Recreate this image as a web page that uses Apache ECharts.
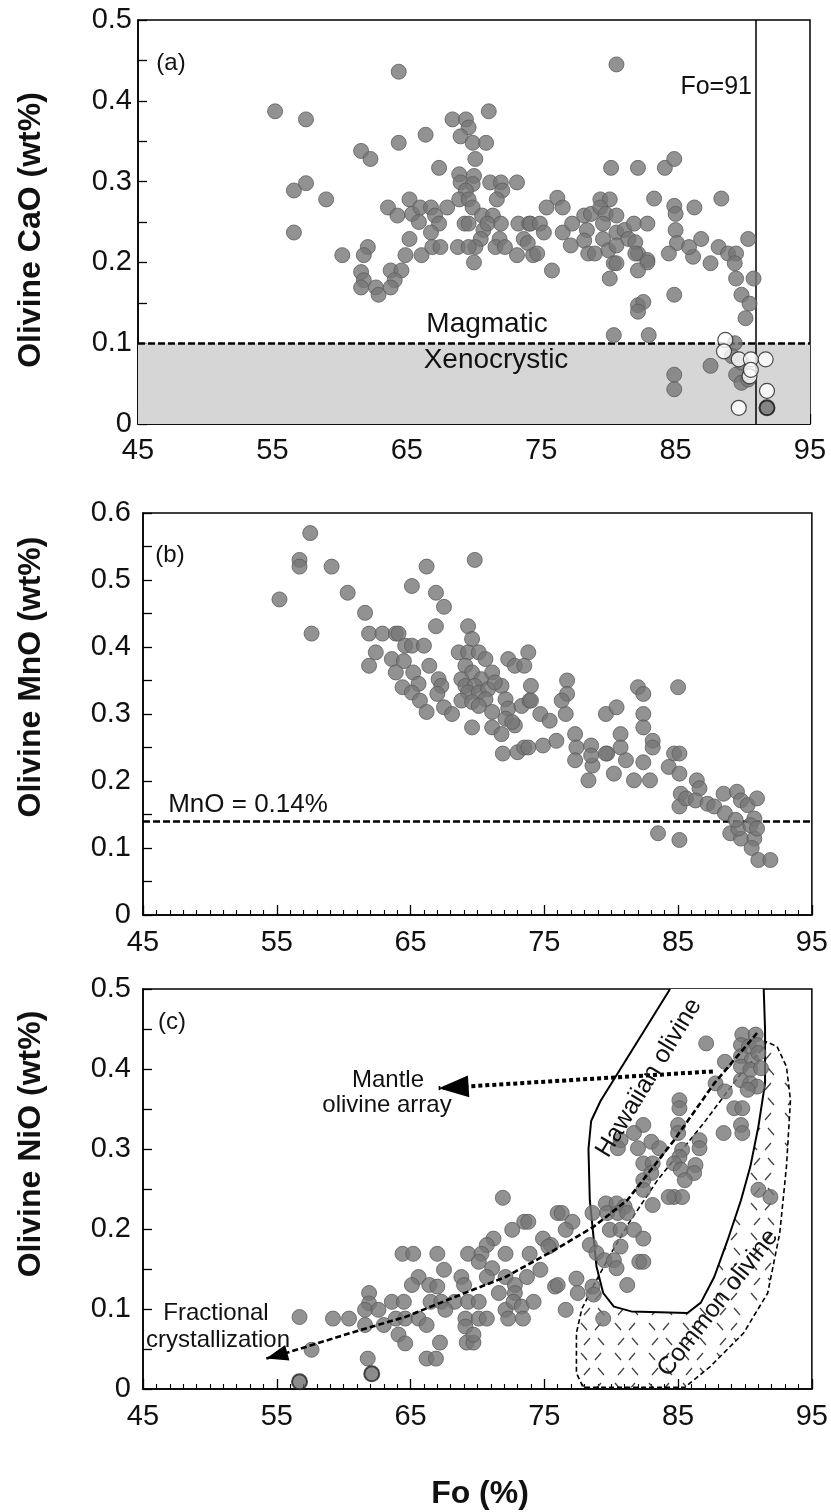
<!DOCTYPE html>
<html><head><meta charset="utf-8">
<script src="https://cdn.jsdelivr.net/npm/echarts@6/dist/echarts.min.js"></script>
<style>html,body{margin:0;padding:0;background:#fff}#c{width:831px;height:1512px}</style>
</head><body><div id="c"></div>
<script>
// ---------- DATA ----------
const xTicks = [45, 55, 65, 75, 85, 95];
const magmaticLimit = 0.1;   // CaO wt%
const foLimit = 91;          // Fo
const mnoLimit = 0.14;       // MnO wt%

// Panel (a) CaO vs Fo
const caoGray = [
[55.2,0.387],[56.6,0.289],[56.6,0.237],[57.5,0.298],[57.5,0.377],[59.0,0.278],[60.2,0.209],
[61.6,0.338],[62.3,0.328],[61.6,0.188],[61.8,0.178],[61.6,0.169],[62.1,0.219],[61.8,0.209],[62.7,0.169],[62.9,0.16],[63.8,0.19],[64.6,0.19],[64.1,0.178],[63.8,0.169],[63.6,0.268],[64.3,0.258],[64.4,0.348],[64.4,0.436],
[65.2,0.278],[65.4,0.26],[66.0,0.268],[66.8,0.268],[67.1,0.258],[65.9,0.25],[67.4,0.248],[66.8,0.237],[68.0,0.268],[65.2,0.229],[64.9,0.209],[66.1,0.209],[66.9,0.219],[67.5,0.219],[66.4,0.358],[67.4,0.317],
[68.4,0.377],[69.4,0.377],[69.6,0.367],[69.0,0.356],[69.9,0.348],[70.9,0.348],[71.1,0.387],[70.1,0.328],
[68.9,0.309],[70.0,0.307],[69.0,0.299],[69.9,0.297],[69.4,0.289],[68.9,0.278],[69.6,0.278],[69.9,0.268],[70.6,0.258],[70.7,0.24],[70.5,0.229],[70.1,0.219],[70.0,0.2],[69.3,0.248],[69.6,0.248],[68.8,0.219],[69.6,0.219],
[71.2,0.299],[72.0,0.299],[72.1,0.289],[73.2,0.299],[71.7,0.278],[71.4,0.258],[72.0,0.248],[71.9,0.229],[73.3,0.248],[74.1,0.248],[73.7,0.229],[71.6,0.219],[72.3,0.219],[73.2,0.209],[74.4,0.209],[71.0,0.248],
[76.2,0.28],[76.6,0.268],[75.4,0.268],[74.2,0.248],[74.9,0.248],[75.2,0.237],[74.0,0.224],[74.7,0.211],[75.8,0.19],[76.6,0.237],[77.3,0.248],[77.2,0.221],
[78.2,0.258],[78.7,0.26],[79.4,0.278],[80.1,0.278],[79.4,0.268],[79.8,0.26],[80.6,0.258],
[78.4,0.24],[78.2,0.227],[78.5,0.211],[79.0,0.211],[79.6,0.248],[79.6,0.229],[80.0,0.215],[80.6,0.237],[80.6,0.221],[80.4,0.199],[81.2,0.24],[81.5,0.229],[81.9,0.248],[82.2,0.211],[82.9,0.203],[82.0,0.225],
[80.6,0.445],[80.2,0.317],[82.2,0.317],[84.2,0.317],[84.9,0.328],[88.4,0.279],[83.4,0.279],[86.4,0.268],[84.9,0.27],[85.0,0.26],[82.9,0.248],[85.0,0.24],[85.1,0.224],[86.9,0.229],[88.2,0.219],[90.4,0.229],
[88.9,0.211],[89.5,0.211],[89.4,0.199],[89.5,0.18],[90.8,0.18],[89.9,0.16],[90.5,0.149],[90.2,0.131],[87.6,0.199],[86.3,0.207],[86.0,0.219],[84.5,0.211],[84.9,0.16],[82.2,0.147],[82.6,0.151],[82.2,0.139],[82.9,0.2],[82.2,0.19],[82.0,0.211],[80.6,0.199],[80.1,0.18],[80.4,0.11],[83.0,0.11],
[84.9,0.061],[84.9,0.043],[87.6,0.072],[89.4,0.1],[89.2,0.084],[89.5,0.061],[89.9,0.051],[90.4,0.055],[89.9,0.076]
];
const caoWhite = [[88.7,0.104],[88.6,0.09],[89.7,0.08],[90.6,0.08],[91.7,0.08],[90.5,0.059],[90.6,0.067],[91.8,0.041],[89.7,0.02]];
const caoDark = [[91.8,0.02]];

// Panel (b) MnO vs Fo
const mnoGray = [
[57.5,0.57],[56.7,0.53],[56.7,0.52],[59.1,0.52],[55.2,0.471],[60.3,0.481],[61.6,0.451],[57.6,0.42],
[61.9,0.42],[62.9,0.42],[63.9,0.42],[64.1,0.42],[64.6,0.402],[65.1,0.402],[66.0,0.402],[62.4,0.392],[61.9,0.372],[63.6,0.382],[64.5,0.379],
[63.9,0.362],[64.4,0.34],[65.2,0.362],[65.6,0.345],[65.1,0.332],[65.7,0.32],[66.2,0.303],[66.4,0.372],[67.1,0.352],[67.3,0.342],[67.0,0.33],[67.5,0.31],[68.1,0.3],
[65.1,0.491],[66.2,0.52],[66.9,0.481],[67.5,0.46],[66.9,0.431],[69.8,0.53],[69.3,0.431],[69.6,0.412],
[68.6,0.392],[69.3,0.392],[70.1,0.392],[70.6,0.382],[69.1,0.372],[69.6,0.362],[70.3,0.352],[71.1,0.362],[68.8,0.352],[69.1,0.342],[69.8,0.342],[69.3,0.332],[70.1,0.332],[70.8,0.337],[70.6,0.322],[68.8,0.32],[69.6,0.318],[70.1,0.312],[71.1,0.303],[71.8,0.342],[71.3,0.347],[72.3,0.382],[72.8,0.372],[72.1,0.322],[72.3,0.308],[72.1,0.293],[72.8,0.283],[73.8,0.392],[73.5,0.372],[74.0,0.342],[73.3,0.312],[73.9,0.32],[69.6,0.28],[71.1,0.28],[71.8,0.27],[72.6,0.288],[71.9,0.241],[73.0,0.243],[73.5,0.25],
[74.0,0.32],[74.7,0.3],[75.4,0.29],[74.9,0.253],[75.9,0.26],[73.8,0.25],[76.7,0.35],[76.7,0.33],[76.3,0.32],[76.6,0.3],
[77.3,0.27],[77.4,0.25],[77.3,0.231],[78.3,0.201],[78.5,0.253],[78.6,0.223],[79.6,0.3],[80.4,0.31],[79.7,0.241],[80.2,0.211],[80.7,0.27],[80.7,0.25],[81.1,0.231],[81.7,0.201],[82.4,0.228],[82.9,0.201],[82.0,0.34],[82.4,0.33],[82.4,0.3],[82.4,0.28],[83.1,0.26],[83.1,0.25],[79.6,0.241],[78.5,0.238],
[83.5,0.122],[85.0,0.34],[85.1,0.112],
[84.7,0.241],[85.1,0.241],[84.3,0.221],[85.1,0.211],[85.2,0.181],[85.1,0.162],[85.6,0.174],[86.4,0.201],[86.6,0.189],[86.3,0.171],[87.2,0.166],[87.7,0.162],[88.4,0.181],[88.5,0.152],[89.4,0.184],[89.7,0.171],[88.9,0.122],[89.7,0.114],[90.2,0.164],[90.7,0.144],[90.9,0.174],[90.7,0.114],[90.5,0.1],[91.0,0.082],[91.9,0.082],[89.5,0.129],[90.4,0.134],[90.9,0.129],[89.3,0.142]
];

// Panel (c) NiO vs Fo
const nioGray = [
[71.9,0.239],[73.5,0.209],[72.6,0.199],[71.2,0.188],[70.7,0.18],[74.9,0.188],[75.5,0.18],[76.0,0.22],
[64.4,0.169],[65.2,0.169],[67.0,0.169],[69.3,0.169],[70.3,0.169],[72.1,0.169],[73.9,0.169],
[67.5,0.149],[70.1,0.159],[71.1,0.151],[74.7,0.149],
[65.6,0.14],[65.1,0.13],[66.4,0.13],[67.0,0.128],[68.8,0.14],[69.0,0.13],[70.7,0.14],[72.1,0.14],[72.8,0.13],[73.7,0.14],[75.8,0.128],[71.6,0.12],[72.8,0.12],
[61.9,0.12],[61.9,0.107],[61.6,0.099],[62.6,0.099],[63.6,0.109],[64.5,0.109],[66.5,0.109],[67.3,0.109],[68.3,0.109],[69.3,0.109],[70.1,0.109],[72.1,0.099],[72.7,0.109],[73.3,0.103],[74.2,0.109],
[56.7,0.09],[59.2,0.088],[60.4,0.088],[61.6,0.08],[63.0,0.08],[63.9,0.088],[64.6,0.088],[65.6,0.088],[66.2,0.08],[67.6,0.099],[69.1,0.088],[70.1,0.088],[70.7,0.088],[72.3,0.088],[73.4,0.088],[69.1,0.078],
[64.1,0.068],[64.6,0.057],[67.2,0.058],[69.2,0.058],[69.7,0.058],[69.7,0.068],[57.6,0.049],[61.8,0.038],[66.2,0.038],[66.9,0.038],
[87.1,0.432],[89.8,0.443],[90.8,0.443],[89.7,0.43],[90.3,0.428],[90.9,0.43],[88.5,0.409],[89.7,0.416],[90.5,0.411],[91.0,0.42],[89.7,0.403],[90.4,0.399],[91.2,0.401],[89.7,0.386],[90.4,0.382],[90.9,0.378],[90.2,0.374],[87.8,0.382],[88.5,0.372],[89.2,0.351],[89.8,0.351],[89.7,0.33],[89.8,0.32],[88.4,0.32],
[85.1,0.361],[85.1,0.351],[85.0,0.33],[85.0,0.32],[86.6,0.311],[86.6,0.301],[85.3,0.299],[85.1,0.29],[84.7,0.282],[85.2,0.274],[86.3,0.28],[86.2,0.27],[85.5,0.261],[84.7,0.24],[85.3,0.24],[84.3,0.24],
[82.4,0.33],[81.7,0.32],[80.7,0.311],[80.5,0.301],[82.0,0.301],[83.0,0.309],[83.6,0.301],[82.4,0.282],[83.1,0.282],[82.4,0.261],[83.0,0.27],[82.4,0.249],[83.1,0.23],
[79.6,0.232],[80.4,0.232],[81.0,0.228],[79.7,0.22],[80.5,0.22],[81.2,0.22],[78.6,0.22],[79.9,0.199],[80.7,0.199],[81.7,0.199],[82.4,0.188],[80.7,0.178],[78.4,0.18],[78.9,0.17],[79.5,0.161],[80.2,0.161],[80.4,0.151],[82.1,0.159],[82.4,0.159],[81.2,0.13],
[76.3,0.22],[77.1,0.209],[76.6,0.199],[75.3,0.178],[73.8,0.209],[76.0,0.13],[77.4,0.138],[77.5,0.12],[76.6,0.099],[78.6,0.128],[78.7,0.118],[79.4,0.088],[91.0,0.249],[91.9,0.24]
];
const nioDark = [[56.7,0.009],[62.1,0.019]];

// Fields and trends in panel (c)
const hawaiianField = [[84.4,0.5],[79.2,0.36],[78.5,0.335],[78.3,0.3],[78.4,0.236],[78.9,0.153],[79.4,0.12],[80.2,0.103],[81.5,0.097],[85.7,0.095],[86.7,0.108],[87.7,0.14],[88.7,0.186],[89.7,0.236],[90.4,0.278],[91.0,0.328],[91.5,0.382],[91.5,0.45],[91.4,0.5]];
const commonField = [[91.3,0.425],[89.5,0.39],[86.9,0.332],[83.5,0.262],[81.3,0.207],[80.0,0.17],[78.7,0.13],[77.8,0.1],[77.4,0.07],[77.4,0.02],[77.9,0.002],[85.5,0.002],[87.4,0.028],[89.9,0.07],[91.7,0.12],[92.6,0.195],[93.1,0.278],[93.4,0.361],[93.1,0.403],[92.4,0.428],[91.6,0.434],[91.3,0.425]];
const fracTrend = [[90.9,0.445],[87.7,0.382],[84.7,0.311],[81.2,0.236],[78.7,0.203],[76.0,0.176],[72.1,0.14],[68.3,0.115],[64.6,0.09],[60.9,0.072],[55.7,0.045],[54.2,0.038]];
const mantleArray = [[87.6,0.397],[67.1,0.376]];

// ---------- STYLE ----------
const FONT = 'Liberation Sans, Arial, Helvetica, sans-serif';
const GRAY = { color: '#777777', borderColor: '#5c5c5c', borderWidth: 1 };
const grids = [
  { left: 138, top: 20, width: 672, height: 404 },
  { left: 143, top: 513, width: 670, height: 402 },
  { left: 143, top: 989, width: 670, height: 400 }
];

function hatchCanvas() {
  const c = document.createElement('canvas');
  c.width = 34; c.height = 30;
  const g = c.getContext('2d');
  g.strokeStyle = '#444'; g.lineWidth = 1.3;
  g.beginPath();
  g.moveTo(3, 3); g.lineTo(9, 10);
  g.moveTo(23, 3); g.lineTo(17, 10);
  g.moveTo(12, 18); g.lineTo(6, 25);
  g.moveTo(20, 18); g.lineTo(26, 25);
  g.stroke();
  return c;
}
const hatch = hatchCanvas();

function xAxis(i, margin) {
  return {
    type: 'value', gridIndex: i, min: xTicks[0], max: xTicks[xTicks.length - 1], interval: 10,
    axisLine: { lineStyle: { color: '#000', width: 1.5 } },
    axisTick: { inside: true, length: 10, lineStyle: { color: '#000', width: 1.3 } },
    minorTick: { show: true, splitNumber: 10, length: 5, lineStyle: { color: '#000', width: 1.1 } },
    splitLine: { show: false },
    axisLabel: { fontSize: 29, color: '#111', fontFamily: FONT, margin: margin }
  };
}
function yAxis(i, max, margin) {
  return {
    type: 'value', gridIndex: i, min: 0, max: max, interval: 0.1,
    axisLine: { lineStyle: { color: '#000', width: 1.5 } },
    axisTick: { inside: true, length: 9, lineStyle: { color: '#000', width: 1.3 } },
    minorTick: { show: true, splitNumber: 2, length: 9, lineStyle: { color: '#000', width: 1.3 } },
    splitLine: { show: false },
    axisLabel: { fontSize: 29, color: '#111', fontFamily: FONT, margin: margin,
      formatter: v => (v === 0 ? '0' : v.toFixed(1)) }
  };
}
function scatter(i, data, style, z) {
  return { type: 'scatter', xAxisIndex: i, yAxisIndex: i, data: data, symbol: 'circle', symbolSize: 15,
    itemStyle: style, z: z || 5, silent: true };
}
function line(i, data, style, z) {
  return { type: 'line', xAxisIndex: i, yAxisIndex: i, data: data, symbol: 'none', smooth: false,
    lineStyle: style, z: z || 6, silent: true };
}
function polygon(i, pts, style, z) {
  return { type: 'custom', xAxisIndex: i, yAxisIndex: i, data: [pts[0]], z: z, silent: true,
    renderItem: (params, api) => ({ type: 'polygon', shape: { points: pts.map(p => api.coord(p)) }, style: style }) };
}
function arrowHead(i, pts, len, half, z) {
  return { type: 'custom', xAxisIndex: i, yAxisIndex: i, data: [pts[pts.length - 1]], z: z, silent: true,
    renderItem: (params, api) => {
      const n = pts.length;
      const tip = api.coord(pts[n - 1]), prev = api.coord(pts[n - 2]);
      const dx = tip[0] - prev[0], dy = tip[1] - prev[1], d = Math.hypot(dx, dy);
      const ux = dx / d, uy = dy / d;
      const bx = tip[0] - ux * len, by = tip[1] - uy * len;
      return { type: 'polygon', shape: { points: [tip, [bx - uy * half, by + ux * half], [bx + uy * half, by - ux * half]] },
        style: { fill: '#000' } };
    } };
}
function txt(t, x, y, size, opts) {
  return Object.assign({ type: 'text', x: x, y: y, z: 50,
    style: { text: t, fill: '#111', font: (opts && opts.weight ? opts.weight + ' ' : '') + size + 'px ' + FONT,
      align: (opts && opts.align) || 'center', verticalAlign: 'middle' } },
    opts && opts.rotation != null ? { rotation: opts.rotation } : {});
}

const chart = echarts.init(document.getElementById('c'), null, { renderer: 'canvas' });
chart.setOption({
  animation: false,
  backgroundColor: '#fff',
  grid: grids.map(g => Object.assign({ show: true, borderColor: '#000', borderWidth: 1.5, backgroundColor: 'transparent' }, g)),
  xAxis: [xAxis(0, 12), xAxis(1, 13), xAxis(2, 13)],
  yAxis: [yAxis(0, 0.5, 6), yAxis(1, 0.6, 12), yAxis(2, 0.5, 12)],
  series: [
    // (a)
    { type: 'scatter', xAxisIndex: 0, yAxisIndex: 0, data: [], silent: true, z: 1,
      markArea: { silent: true, itemStyle: { color: '#d6d6d6' }, data: [[{ yAxis: 0 }, { yAxis: magmaticLimit }]] },
      markLine: { silent: true, symbol: 'none', label: { show: false },
        data: [
          { yAxis: magmaticLimit, lineStyle: { color: '#000', width: 2.5, type: [7, 3] } },
          { xAxis: foLimit, lineStyle: { color: '#000', width: 1.5, type: 'solid' } }
        ] } },
    scatter(0, caoGray, GRAY, 5),
    scatter(0, caoWhite, { color: '#fff', borderColor: '#222', borderWidth: 1.2 }, 6),
    scatter(0, caoDark, { color: '#6f6f6f', borderColor: '#111', borderWidth: 2 }, 7),
    // (b)
    { type: 'scatter', xAxisIndex: 1, yAxisIndex: 1, data: [], silent: true, z: 1,
      markLine: { silent: true, symbol: 'none', label: { show: false },
        data: [{ yAxis: mnoLimit, lineStyle: { color: '#000', width: 2.5, type: [7, 3] } }] } },
    scatter(1, mnoGray, GRAY, 5),
    // (c)
    polygon(2, commonField, { fill: { image: hatch, repeat: 'repeat' }, stroke: 'none' }, 1),
    polygon(2, hawaiianField, { fill: '#fff', stroke: 'none' }, 2),
    line(2, commonField, { color: '#000', width: 1.6, type: [5, 3] }, 3),
    line(2, hawaiianField, { color: '#000', width: 2, type: 'solid' }, 3),
    scatter(2, nioGray, GRAY, 5),
    scatter(2, nioDark, { color: '#6f6f6f', borderColor: '#222', borderWidth: 2 }, 6),
    line(2, fracTrend, { color: '#000', width: 2.6, type: [6, 3] }, 8),
    line(2, mantleArray, { color: '#000', width: 4, type: [4, 3] }, 8),
    arrowHead(2, fracTrend, 22, 8, 9),
    arrowHead(2, mantleArray, 30, 11, 9)
  ],
  graphic: [
    txt('Olivine CaO (wt%)', 31, 230, 32, { weight: 'bold', rotation: Math.PI / 2 }),
    txt('Olivine MnO (wt%)', 31, 677, 32, { weight: 'bold', rotation: Math.PI / 2 }),
    txt('Olivine NiO (wt%)', 31, 1144, 32, { weight: 'bold', rotation: Math.PI / 2 }),
    txt('Fo (%)', 480, 1494, 32, { weight: 'bold' }),
    txt('(a)', 171, 63, 24),
    txt('(b)', 170, 555, 24),
    txt('(c)', 172, 1022, 24),
    txt('Fo=91', 752, 87, 25, { align: 'right' }),
    txt('Magmatic', 487, 324, 28),
    txt('Xenocrystic', 496, 360, 28),
    txt('MnO = 0.14%', 248, 805, 26),
    txt('Mantle', 388, 1080, 24),
    txt('olivine array', 387, 1105, 24),
    txt('Fractional', 216, 1313, 24),
    txt('crystallization', 218, 1340, 24),
    txt('Hawaiian olivine', 649, 1078, 25, { rotation: 58.8 * Math.PI / 180 }),
    txt('Common olivine', 718, 1303, 25, { rotation: 52 * Math.PI / 180 })
  ]
});
</script></body></html>
